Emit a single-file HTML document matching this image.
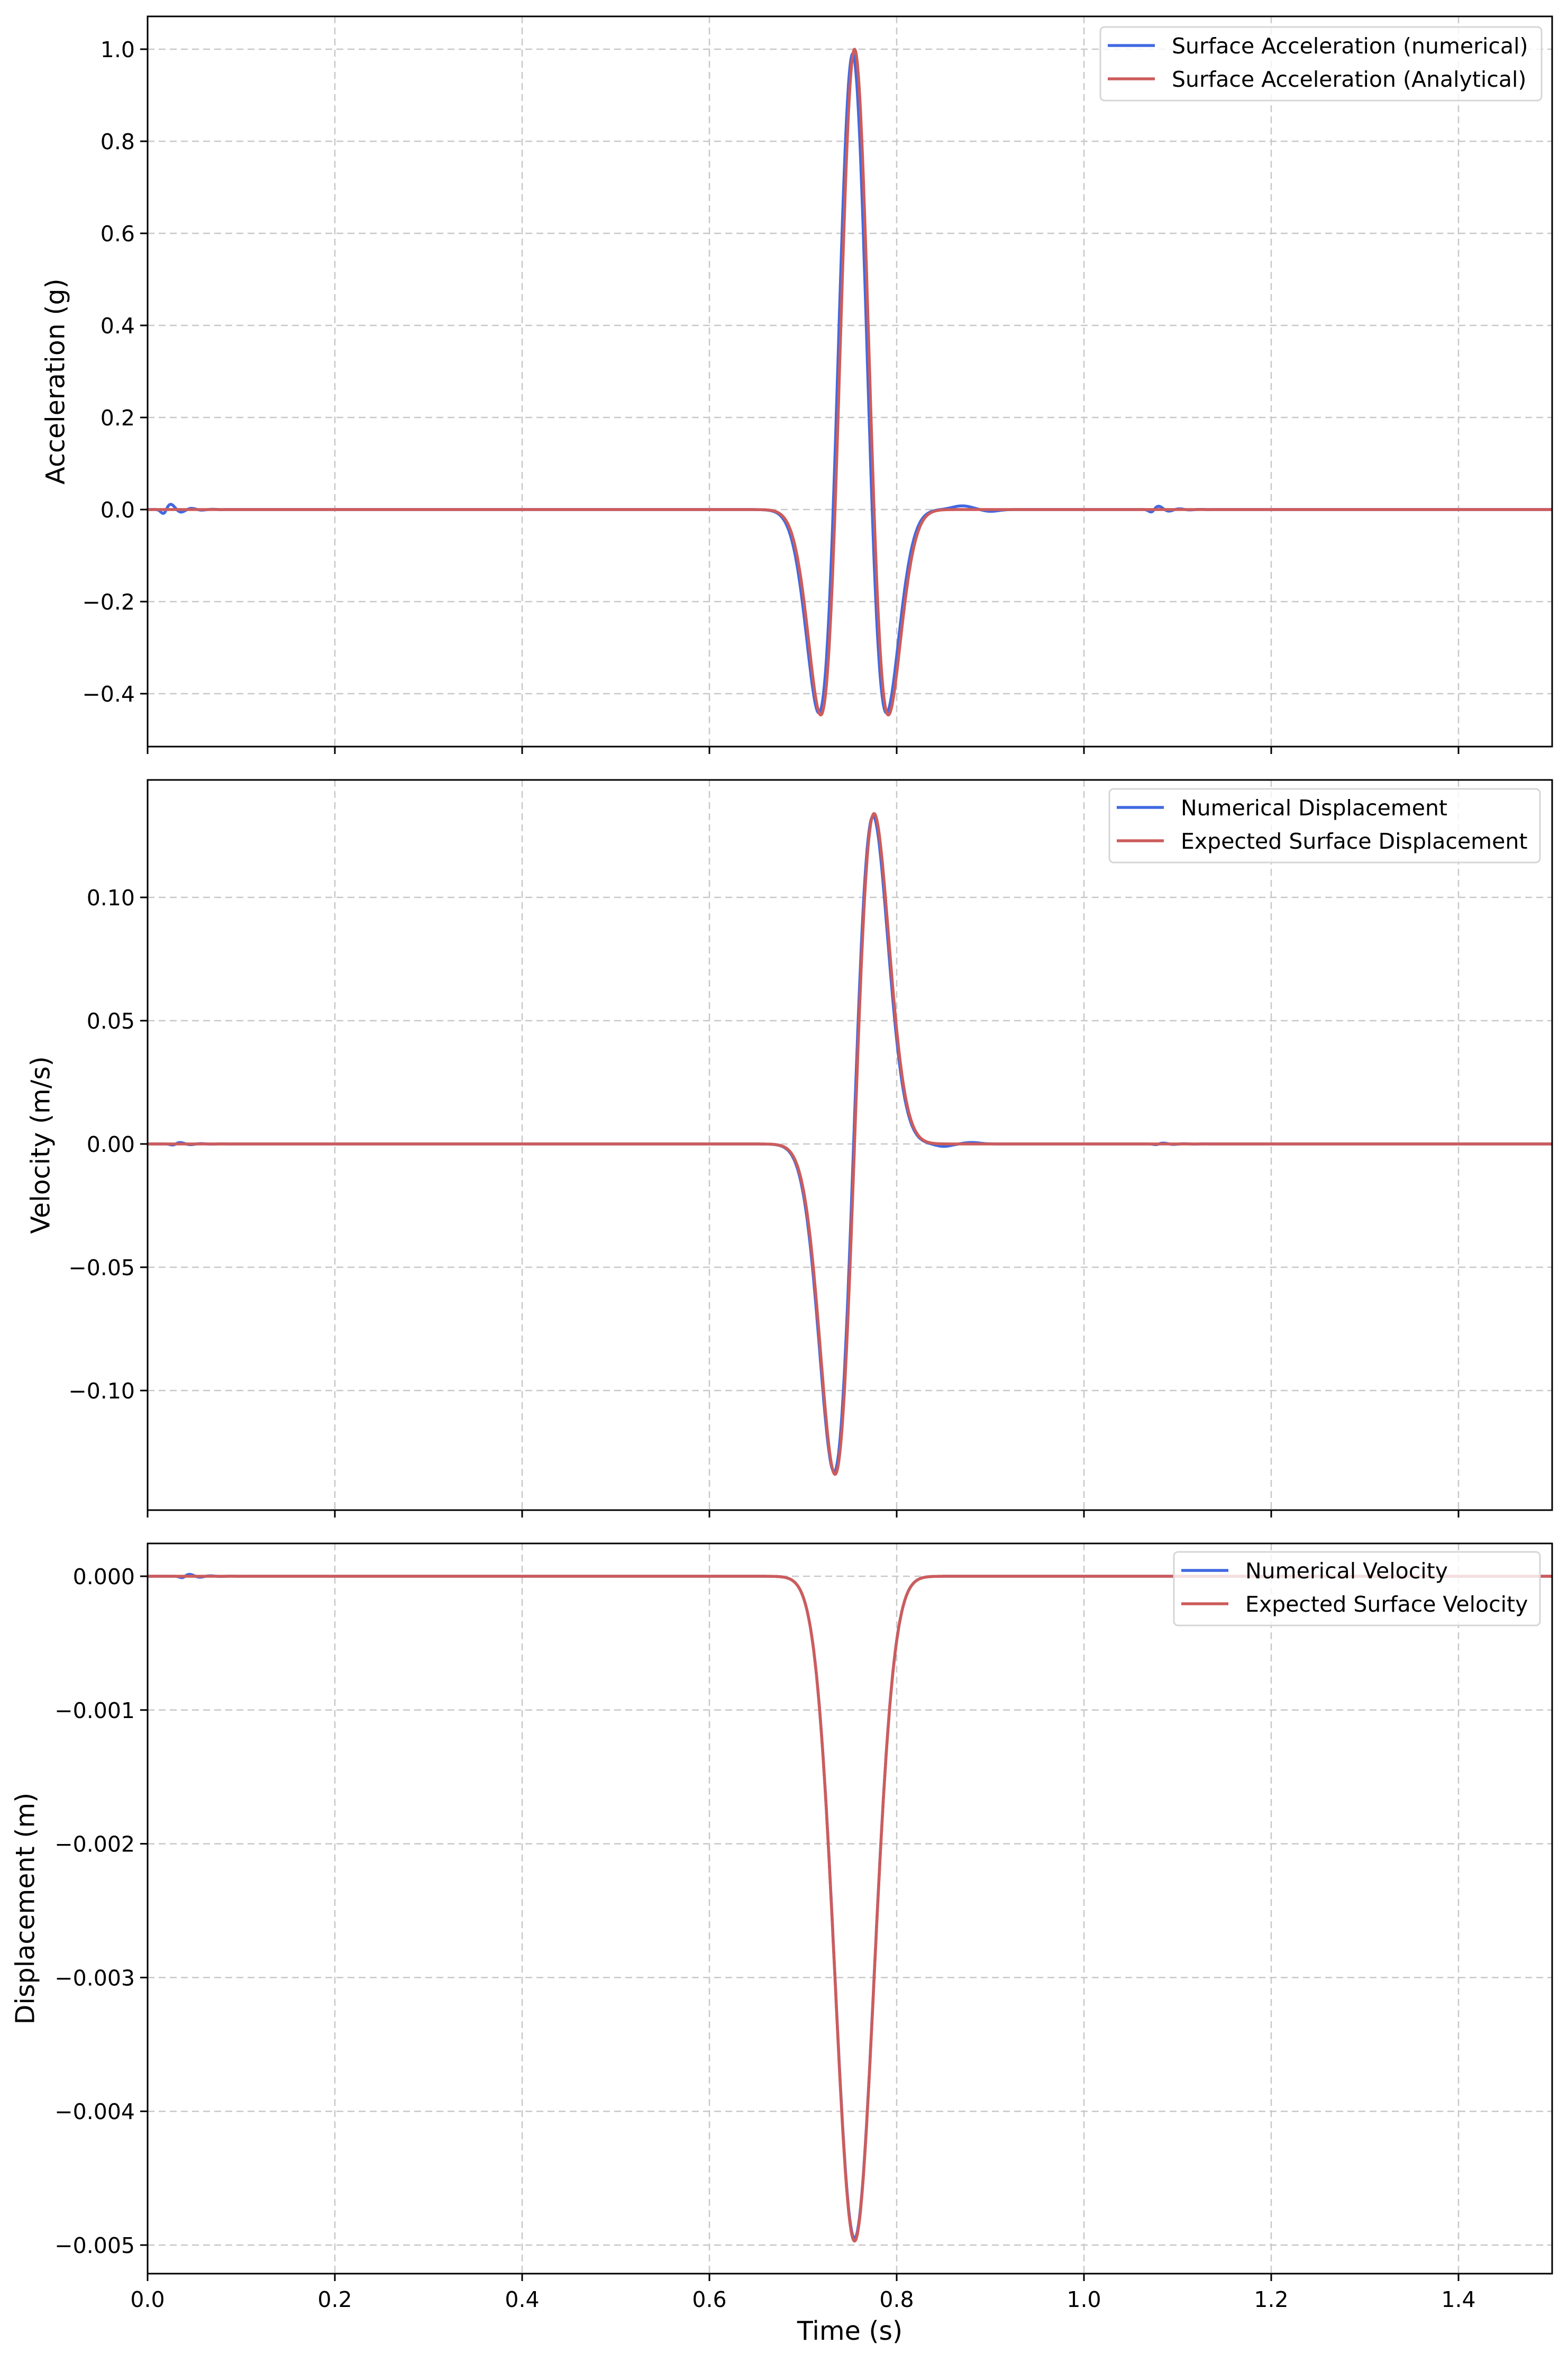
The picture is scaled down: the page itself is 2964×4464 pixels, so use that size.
<!DOCTYPE html>
<html><head><meta charset="utf-8"><style>
html,body{margin:0;padding:0;background:#fff;}
svg{display:block;font-family:"DejaVu Sans","Liberation Sans",sans-serif;}
</style></head><body>
<svg id="s" width="2964" height="4464" xmlns="http://www.w3.org/2000/svg"></svg>
<script>
const S=document.getElementById('s');
const NS='http://www.w3.org/2000/svg';
function el(n,a,t){const e=document.createElementNS(NS,n);for(const k in a)e.setAttribute(k,a[k]);if(t!==undefined)e.textContent=t;S.appendChild(e);return e;}
const L=279,R=2934;
const X=t=>L+t/1.5*(R-L);
const f=10.8,a=Math.PI*Math.PI*f*f,t0=0.755;
function ricker(t){const u=t-t0;return (1-2*a*u*u)*Math.exp(-a*u*u);}
function disp(t){const u=t-t0;return Math.exp(-a*u*u);}
const vmax=Math.sqrt(1/(2*a))*Math.exp(-0.5);
function wig(t,c,A){const d=t-c;if(d<-0.015||d>0.06)return 0;return A*Math.sin(2*Math.PI*45*d)*Math.exp(-Math.abs(d)/0.015)*(d<0?Math.exp(-d*d/0.00005):1);}
function bump(t,c,w,A){const d=(t-c)/w;return A*Math.exp(-d*d);}
const panels=[
 {top:31,bot:1411,y0:963,k:870,ticks:[1.0,0.8,0.6,0.4,0.2,0.0,-0.2,-0.4],fmt:v=>v.toFixed(1),label:'Acceleration (g)',lx:105,
  red:t=>ricker(t),blue:t=>0.99*ricker(t+0.002)+wig(t,0.02,0.016)+wig(t,1.075,0.010)+bump(t,0.87,0.015,0.008)-bump(t,0.9,0.012,0.004),
  leg:{x:2080,y:51,w:834,h:139,names:['Surface Acceleration (numerical)','Surface Acceleration (Analytical)']}},
 {top:1474,bot:2854,y0:2162,k:4660,ticks:[0.10,0.05,0.00,-0.05,-0.10],fmt:v=>v.toFixed(2),label:'Velocity (m/s)',lx:77,
  red:t=>{const u=t-t0;return 0.134*(u*Math.exp(-a*u*u))/vmax;},
  blue:t=>{const u=t-t0+0.001;return 0.133*(u*Math.exp(-a*u*u))/vmax+wig(t,0.03,0.0008)+wig(t,1.08,0.0005)-bump(t,0.85,0.012,0.001)+bump(t,0.88,0.012,0.0006);},
  leg:{x:2097,y:1491,w:814,h:139,names:['Numerical Displacement','Expected Surface Displacement']}},
 {top:2917,bot:4297,y0:2979,k:252800,ticks:[0,-0.001,-0.002,-0.003,-0.004,-0.005],fmt:v=>v.toFixed(3),label:'Displacement (m)',lx:48,
  red:t=>-0.00497*disp(t),blue:t=>-0.00495*disp(t)+wig(t,0.04,0.00002),
  leg:{x:2219,y:2933,w:692,h:139,names:['Numerical Velocity','Expected Surface Velocity']}}
];
const xt=[0,0.2,0.4,0.6,0.8,1.0,1.2,1.4];
panels.forEach((p,i)=>{
 xt.forEach(t=>el('line',{x1:X(t),x2:X(t),y1:p.top,y2:p.bot,stroke:'#c8c8c8','stroke-width':2.5,'stroke-dasharray':'13 8'}));
 p.ticks.forEach(v=>{const y=p.y0-v*p.k;el('line',{x1:L,x2:R,y1:y,y2:y,stroke:'#c8c8c8','stroke-width':2.5,'stroke-dasharray':'13 8'});
  el('line',{x1:L-14,x2:L,y1:y,y2:y,stroke:'#000','stroke-width':3});
  let s=p.fmt(v);if(v<0)s='\u2212'+s.slice(1);
  el('text',{x:L-24,y:y+15,'font-size':41,'text-anchor':'end'},s);});
 xt.forEach(t=>el('line',{x1:X(t),x2:X(t),y1:p.bot,y2:p.bot+14,stroke:'#000','stroke-width':3}));
 const clip='c'+i;const cp=el('clipPath',{id:clip});const r=document.createElementNS(NS,'rect');r.setAttribute('x',L);r.setAttribute('y',p.top);r.setAttribute('width',R-L);r.setAttribute('height',p.bot-p.top);cp.appendChild(r);
 ['blue','red'].forEach(c=>{let d='';for(let j=0;j<=3000;j++){const t=1.5*j/3000;const y=p.y0-p[c](t)*p.k;d+=(j?'L':'M')+X(t).toFixed(1)+' '+y.toFixed(1);}
  el('path',{d:d,fill:'none',stroke:c=='blue'?'#4169E1':'#CD5C5C','stroke-width':5.5,'stroke-linejoin':'round','clip-path':'url(#'+clip+')'});});
 el('rect',{x:L,y:p.top,width:R-L,height:p.bot-p.top,fill:'none',stroke:'#000','stroke-width':3});
 const cy=(p.top+p.bot)/2;
 el('text',{x:p.lx,y:cy,'font-size':49,'text-anchor':'middle',transform:'rotate(-90 '+p.lx+' '+cy+')','dominant-baseline':'central'},p.label);
 const g=p.leg;
 el('rect',{x:g.x,y:g.y,width:g.w,height:g.h,rx:8,fill:'#fff','fill-opacity':0.8,stroke:'#d6d6d6','stroke-width':3});
 g.names.forEach((n,k)=>{const y=g.y+35+k*63;
  el('line',{x1:g.x+14,x2:g.x+103,y1:y,y2:y,stroke:k?'#CD5C5C':'#4169E1','stroke-width':5.5});
  el('text',{x:g.x+135,y:y+15,'font-size':41},n);});
});
xt.forEach(t=>el('text',{x:X(t),y:4360,'font-size':41,'text-anchor':'middle'},t.toFixed(1)));
el('text',{x:(L+R)/2,y:4422,'font-size':49,'text-anchor':'middle'},'Time (s)');
</script>
</body></html>
